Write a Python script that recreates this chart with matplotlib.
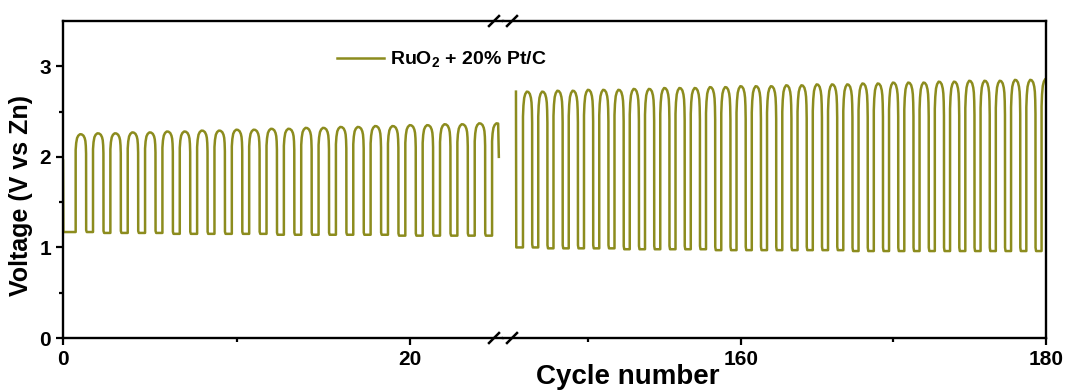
import numpy as np
import matplotlib
matplotlib.use("Agg")
import matplotlib.pyplot as plt
from matplotlib.lines import Line2D

plt.rcParams['font.family'] = ['Liberation Sans', 'DejaVu Sans']
plt.rcParams['font.weight'] = 'bold'
plt.rcParams['mathtext.fontset'] = 'custom'
plt.rcParams['mathtext.rm'] = 'Liberation Sans:bold'
plt.rcParams['mathtext.bf'] = 'Liberation Sans:bold'

LINE_COLOR = '#8c8c1e'
LABEL = r'RuO$_\mathregular{2}$ + 20% Pt/C'

# charge peaks / discharge plateaus for each cycle, cycles 0-25
early_peak = [2.25, 2.26, 2.26, 2.27, 2.27, 2.28, 2.28, 2.29, 2.29, 2.30,
              2.30, 2.31, 2.31, 2.32, 2.32, 2.33, 2.33, 2.34, 2.34, 2.35,
              2.35, 2.36, 2.36, 2.37, 2.37]
early_low = [1.17, 1.17, 1.16, 1.16, 1.16, 1.16, 1.15, 1.15, 1.15, 1.15,
             1.15, 1.15, 1.14, 1.14, 1.14, 1.14, 1.14, 1.14, 1.14, 1.13,
             1.13, 1.13, 1.13, 1.13, 1.13]
early_first_rise = 0.73
early_start_v = 1.96
early_end_phase = 0.36
early_end_v = 2.0

# charge peaks / discharge plateaus, cycles 145-180
late_peak = [2.72, 2.72, 2.73, 2.73, 2.74, 2.74, 2.74, 2.75, 2.75, 2.76,
             2.76, 2.76, 2.77, 2.77, 2.78, 2.78, 2.78, 2.79, 2.79, 2.80,
             2.80, 2.80, 2.81, 2.81, 2.82, 2.82, 2.82, 2.83, 2.83, 2.84,
             2.84, 2.84, 2.85, 2.85, 2.86]
late_low = [1.00, 1.00, 0.99, 0.99, 0.99, 0.99, 0.99, 0.98, 0.98, 0.98,
            0.98, 0.98, 0.98, 0.97, 0.97, 0.97, 0.97, 0.97, 0.97, 0.97,
            0.97, 0.97, 0.96, 0.96, 0.96, 0.96, 0.96, 0.96, 0.96, 0.96,
            0.96, 0.96, 0.96, 0.96, 0.96]
late_first_rise = 145.71
late_start_t = 145.25
late_start_v = 2.72

# shape of one charge/discharge cycle: (phase after the charge step, fraction of swing)
DROP = 0.6
cycle_phase = [0.0, 0.0, 0.03, 0.08, 0.15, 0.25, 0.35, 0.45, 0.52, 0.56,
               0.585, 0.6, 0.605, 0.64, 1.0]
cycle_frac = [0.0, 0.84, 0.91, 0.96, 0.985, 1.0, 0.998, 0.985, 0.96, 0.93,
              0.88, 0.8, 0.02, 0.0, 0.0]


def build_trace(first_rise, peaks, lows, start_t, start_v):
    t = [start_t, start_t + 0.02]
    v = [start_v, lows[0]]
    for n, (pk, lo) in enumerate(zip(peaks, lows)):
        nxt = lows[n + 1] if n + 1 < len(lows) else lo
        for ph, fr in zip(cycle_phase, cycle_frac):
            base = lo if ph <= DROP else nxt
            t.append(first_rise + n + ph)
            v.append(base + fr * (pk - base))
    return np.array(t), np.array(v)


t_early, v_early = build_trace(early_first_rise, early_peak, early_low, 0.0, early_start_v)
# the record stops part way through the last early cycle
cut = early_first_rise + len(early_peak) - 1 + early_end_phase
keep = t_early <= cut
t_early = np.append(t_early[keep], cut + 0.03)
v_early = np.append(v_early[keep], early_end_v)

t_late, v_late = build_trace(late_first_rise, late_peak, late_low, late_start_t, late_start_v)

W, H = 1065, 390
fig = plt.figure(figsize=(W / 100, H / 100), dpi=100)
x0, xb, x1 = 63, 503, 1046
y0, y1 = 338, 21
ax1 = fig.add_axes([x0 / W, 1 - y0 / H, (xb - x0) / W, (y0 - y1) / H])
ax2 = fig.add_axes([xb / W, 1 - y0 / H, (x1 - xb) / W, (y0 - y1) / H])

ax1.plot(t_early, v_early, color=LINE_COLOR, lw=1.8, label=LABEL)
ax2.plot(t_late, v_late, color=LINE_COLOR, lw=1.8)

ax1.set_xlim(0, 25.36)
ax2.set_xlim(144.4, 180)
for ax in (ax1, ax2):
    ax.set_ylim(0, 3.5)
    for s in ax.spines.values():
        s.set_linewidth(1.7)
    ax.tick_params(which='both', direction='out', width=1.6, labelsize=15)
    ax.tick_params(which='major', length=5)
    ax.tick_params(which='minor', length=3)

ax1.spines['right'].set_visible(False)
ax2.spines['left'].set_visible(False)
ax1.set_xticks([0, 20])
ax1.set_xticks([10], minor=True)
ax2.set_xticks([160, 180])
ax2.set_xticks([150, 170], minor=True)
ax1.set_yticks([0, 1, 2, 3])
ax1.set_yticks([0.5, 1.5, 2.5], minor=True)
ax2.set_yticks([])
ax2.set_yticks([], minor=True)

ax1.set_ylabel('Voltage (V vs Zn)', fontsize=18, fontweight='bold')
ax1.yaxis.set_label_coords(-30 / (xb - x0), 0.45)
fig.text(628 / W, 1 - 377 / H, 'Cycle number', fontsize=20, fontweight='bold',
         ha='center', va='center')

# axis break marks on the top and bottom spines
for yb in (y0, y1):
    for xs in (489, 507):
        fig.add_artist(Line2D([xs / W, (xs + 10) / W],
                              [1 - (yb + 5) / H, 1 - (yb - 5) / H],
                              color='black', lw=1.8))

fig.legend(loc='center left', bbox_to_anchor=(337 / W, 1 - 60 / H),
           frameon=False, borderpad=0, borderaxespad=0, handlelength=2.4,
           handletextpad=0.3, prop={'size': 14, 'weight': 'bold'})

fig.savefig('out.png', dpi=100)
